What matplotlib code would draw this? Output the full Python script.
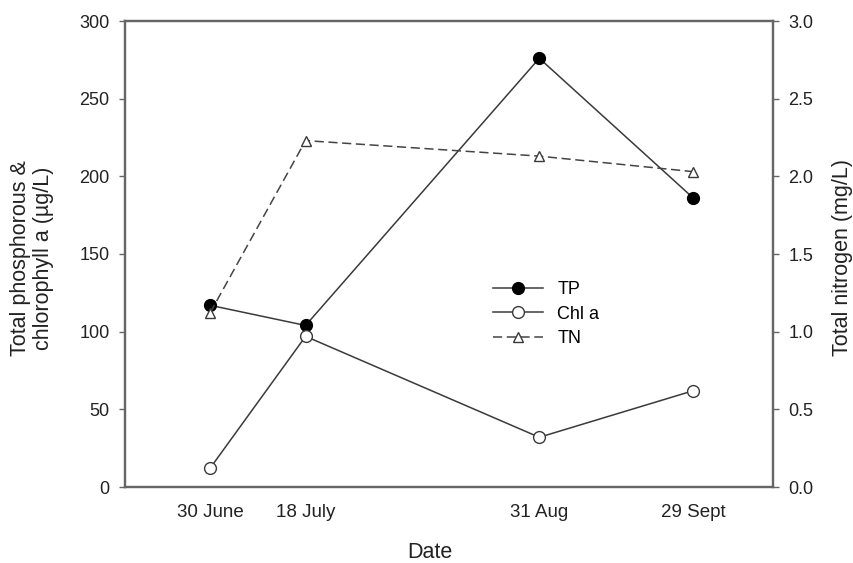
import datetime as dt
import matplotlib
matplotlib.use("Agg")
import matplotlib.pyplot as plt

plt.rcParams['font.family'] = ['Liberation Sans', 'DejaVu Sans']

dates = [dt.date(2010, 6, 30), dt.date(2010, 7, 18), dt.date(2010, 8, 31), dt.date(2010, 9, 29)]
date_labels = ["30 June", "18 July", "31 Aug", "29 Sept"]
tp = [117, 104, 276, 186]
chla = [12, 97, 32, 62]
tn = [1.12, 2.23, 2.13, 2.03]

W, H = 854, 563
fig = plt.figure(figsize=(W / 100, H / 100), dpi=100)
ax = fig.add_axes([125 / W, 1 - 487 / H, (773 - 125) / W, (487 - 21) / H])
ax2 = ax.twinx()

lc = '#3a3a3a'
tc = '#222222'
l1, = ax.plot(dates, tp, '-', color=lc, lw=1.1, marker='o', ms=8.5,
              mfc='black', mec='black', label='TP', zorder=3)
l2, = ax.plot(dates, chla, '-', color=lc, lw=1.1, marker='o', ms=8.5,
              mfc='white', mec=lc, mew=1.0, label='Chl a', zorder=3)
l3, = ax2.plot(dates, tn, '--', color='#444444', lw=1.1, dashes=(6, 3), marker='^', ms=7,
               mfc='white', mec=lc, mew=1.0, label='TN', zorder=2)

ax.set_xlim(dt.date(2010, 6, 14), dt.date(2010, 10, 14))
ax.set_xticks(dates)
ax.set_xticklabels(date_labels)
ax.set_ylim(0, 300)
ax.set_yticks(range(0, 301, 50))
rticks = [0.0, 0.5, 1.0, 1.5, 2.0, 2.5, 3.0]
ax2.set_ylim(0, 3.0)
ax2.set_yticks(rticks)
ax2.set_yticklabels([f"{v:.1f}" for v in rticks])

for a in (ax, ax2):
    for s in a.spines.values():
        s.set_color('#666666')
        s.set_linewidth(1.6)
ax.tick_params(axis='x', length=0, labelsize=13.5, pad=12, colors=tc)
ax.tick_params(axis='y', length=4.5, width=1, labelsize=13, pad=6.5, colors=tc)
ax2.tick_params(axis='y', length=4.5, width=1, labelsize=13, pad=6.5, colors=tc)
ax.tick_params(axis='y', color='#666666')
ax2.tick_params(axis='y', color='#666666')

fig.text(430 / W, 1 - 552 / H, "Date", fontsize=15.5, color=tc, ha='center', va='center')
fig.text(32 / W, 1 - 258 / H, "Total phosphorous &\nchlorophyll a (µg/L)", fontsize=15.5,
         color=tc, ha='center', va='center', rotation=90, linespacing=1.1)
fig.text(843 / W, 1 - 257 / H, "Total nitrogen (mg/L)", fontsize=15.5,
         color=tc, ha='center', va='center', rotation=90)

ax.legend(handles=[l1, l2, l3], loc='center left', bbox_to_anchor=(0.568, 0.371),
          borderaxespad=0, borderpad=0, frameon=False, fontsize=13,
          handlelength=2.77, handletextpad=0.78, labelspacing=0.4)

fig.savefig("out.png", dpi=100)
